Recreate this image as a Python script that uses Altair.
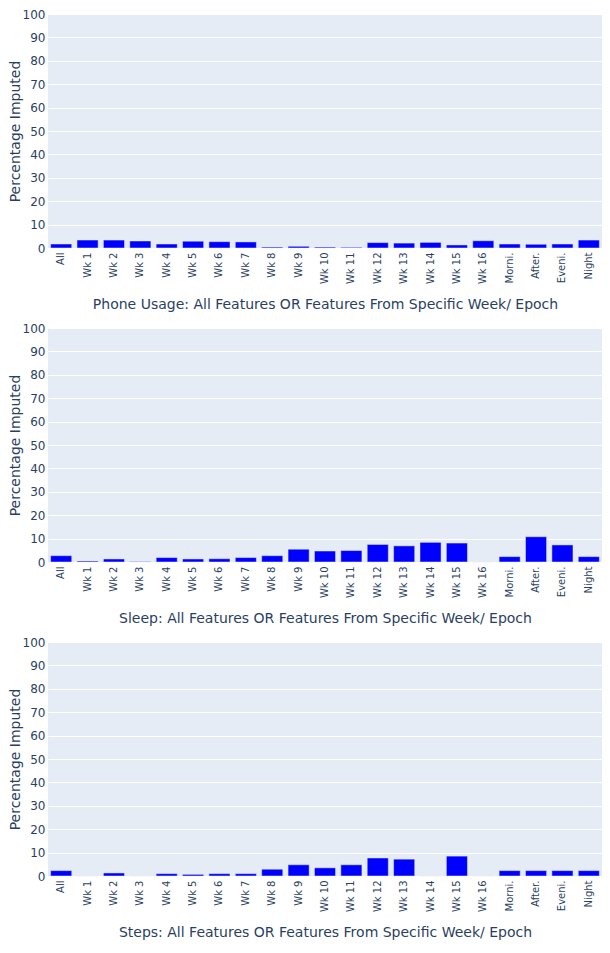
import altair as alt
import pandas as pd

categories = ["All"] + [f"Wk {i}" for i in range(1, 17)] + ["Morni.", "After.", "Eveni.", "Night"]

phone_vals = [1.7, 3.4, 3.4, 3.0, 1.7, 2.9, 2.7, 2.6, 0.4, 0.7, 0.4, 0.3,
              2.3, 2.1, 2.4, 1.3, 3.1, 1.7, 1.6, 1.7, 3.4]
sleep_vals = [2.7, 0.4, 1.3, 0.15, 1.9, 1.3, 1.4, 1.9, 2.7, 5.5, 4.7, 4.9,
              7.5, 6.9, 8.4, 8.1, 0.0, 2.3, 10.8, 7.3, 2.3]
steps_vals = [2.3, 0.0, 1.3, 0.0, 1.0, 0.7, 1.0, 1.0, 2.9, 4.8, 3.5, 4.8,
              7.7, 7.2, 0.0, 8.5, 0.0, 2.3, 2.3, 2.3, 2.3]

titles = [
    "Phone Usage: All Features OR Features From Specific Week/ Epoch",
    "Sleep: All Features OR Features From Specific Week/ Epoch",
    "Steps: All Features OR Features From Specific Week/ Epoch",
]

TEXT = "#2a3f5f"
FONT = "DejaVu Sans"


def panel(vals, title):
    df = pd.DataFrame({"cat": categories, "val": vals})
    return alt.Chart(df).mark_bar(
        color="#0000FF", stroke="#E5ECF6", strokeWidth=0.5
    ).encode(
        x=alt.X("cat:N", sort=categories, title=title,
                scale=alt.Scale(paddingInner=0.2, paddingOuter=0.1),
                axis=alt.Axis(labelAngle=-90, domain=False, ticks=False, grid=False,
                              labelPadding=4, titlePadding=14, labelFontSize=10)),
        y=alt.Y("val:Q", title="Percentage Imputed",
                scale=alt.Scale(domain=[0, 100], nice=False),
                axis=alt.Axis(values=list(range(0, 101, 10)), domain=False, ticks=False,
                              grid=True, gridColor="white", gridWidth=1,
                              labelPadding=3, titlePadding=0, labelFontSize=12)),
    ).properties(width=554, height=234)


chart = alt.vconcat(
    *[panel(v, t) for v, t in zip([phone_vals, sleep_vals, steps_vals], titles)],
    spacing=10,
).properties(
    padding={"left": 0, "top": 0, "right": 0, "bottom": 0}
).configure_view(
    fill="#E5ECF6", stroke=None
).configure_axis(
    labelFont=FONT, labelColor=TEXT,
    titleFont=FONT, titleFontSize=14, titleColor=TEXT, titleFontWeight="normal",
)

chart.save("out.html", embed_options={"renderer": "svg", "actions": False})
